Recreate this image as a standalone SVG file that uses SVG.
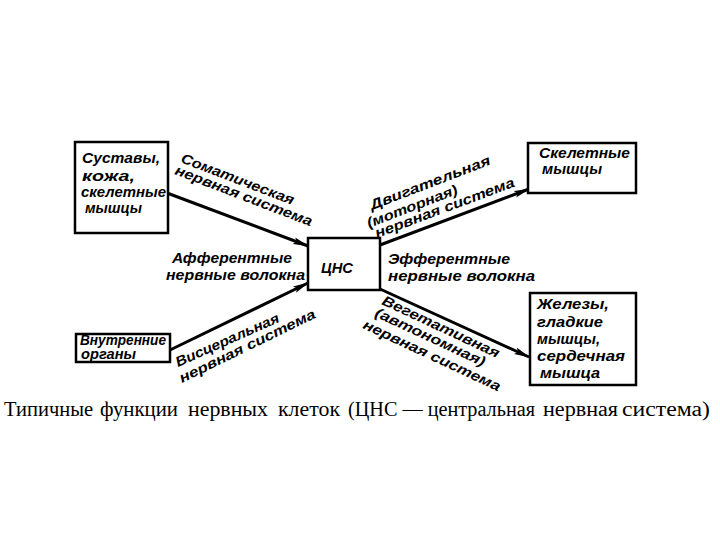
<svg xmlns="http://www.w3.org/2000/svg" width="720" height="540" viewBox="0 0 720 540">
<style>
.box{fill:#fff;stroke:#000;stroke-width:2.5}
.t{font-family:"Liberation Sans",Arial,sans-serif;font-style:italic;font-weight:bold;font-size:14px;fill:#000}
.cap{font-family:"Liberation Serif","Times New Roman",serif;font-size:20px;fill:#000}
.ln{stroke:#000;stroke-width:3;fill:none}
</style>
<defs>
<marker id="ah" markerWidth="16" markerHeight="8" refX="15" refY="4" orient="auto" markerUnits="userSpaceOnUse">
<path d="M0,0.5 L16,4 L0,7.5 L3,4 Z" fill="#000"/>
</marker>
</defs>
<rect width="720" height="540" fill="#fff"/>
<g id="connectors">
<line class="ln" x1="167" y1="193" x2="308" y2="246" marker-end="url(#ah)"/>
<line class="ln" x1="380" y1="245" x2="529" y2="189" marker-end="url(#ah)"/>
<line class="ln" x1="170" y1="350" x2="308" y2="283" marker-end="url(#ah)"/>
<line class="ln" x1="380" y1="289" x2="529" y2="357" marker-end="url(#ah)"/>
</g>
<g id="n-joints">
<rect class="box" x="75" y="142" width="93" height="91"/>
<text class="t" x="82" y="163" font-size="16" textLength="78" lengthAdjust="spacingAndGlyphs">Суставы,</text>
<text class="t" x="82" y="181" font-size="15" textLength="53" lengthAdjust="spacingAndGlyphs">кожа,</text>
<text class="t" x="81" y="197" font-size="15" textLength="85" lengthAdjust="spacingAndGlyphs">скелетные</text>
<text class="t" x="85" y="213" textLength="57" lengthAdjust="spacingAndGlyphs">мышцы</text>
</g>
<g id="n-cns">
<rect class="box" x="308" y="238" width="72" height="52"/>
<text class="t" x="321" y="273" font-size="18" textLength="32" lengthAdjust="spacingAndGlyphs">ЦНС</text>
</g>
<g id="n-skeletal">
<rect class="box" x="528" y="143" width="108" height="50"/>
<text class="t" x="539" y="158" textLength="91" lengthAdjust="spacingAndGlyphs">Скелетные</text>
<text class="t" x="542" y="174" textLength="60" lengthAdjust="spacingAndGlyphs">мышцы</text>
</g>
<g id="n-organs">
<rect class="box" x="76" y="334" width="94" height="28"/>
<text class="t" font-size="9.5"><tspan x="80" y="344.5" textLength="86" lengthAdjust="spacingAndGlyphs">Внутренние</tspan><tspan x="81" y="358.5" textLength="55" lengthAdjust="spacingAndGlyphs">органы</tspan></text>
</g>
<g id="n-glands">
<rect class="box" x="530" y="293" width="106" height="92"/>
<text class="t" x="537" y="309" textLength="72" lengthAdjust="spacingAndGlyphs">Железы,</text>
<text class="t" x="537" y="327" textLength="66" lengthAdjust="spacingAndGlyphs">гладкие</text>
<text class="t" x="537" y="344" textLength="63" lengthAdjust="spacingAndGlyphs">мышцы,</text>
<text class="t" x="537" y="361" textLength="88" lengthAdjust="spacingAndGlyphs">сердечная</text>
<text class="t" x="540" y="378" textLength="60" lengthAdjust="spacingAndGlyphs">мышца</text>
</g>
<g id="labels">
<text class="t" x="172" y="263" textLength="120" lengthAdjust="spacingAndGlyphs">Афферентные</text>
<text class="t" x="166" y="280" textLength="139" lengthAdjust="spacingAndGlyphs">нервные волокна</text>
<text class="t" x="388" y="264" textLength="122" lengthAdjust="spacingAndGlyphs">Эфферентные</text>
<text class="t" x="388" y="281" textLength="147" lengthAdjust="spacingAndGlyphs">нервные волокна</text>
<text class="t" transform="translate(180,162) rotate(21)" textLength="120" lengthAdjust="spacingAndGlyphs">Соматическая</text>
<text class="t" transform="translate(174,174) rotate(21)" textLength="146" lengthAdjust="spacingAndGlyphs">нервная система</text>
<text class="t" font-size="15" transform="translate(372,210) rotate(-21)" textLength="128" lengthAdjust="spacingAndGlyphs">Двигательная</text>
<text class="t" transform="translate(369,228) rotate(-21)" textLength="96" lengthAdjust="spacingAndGlyphs">(моторная)</text>
<text class="t" transform="translate(377,238) rotate(-20.5)" textLength="148" lengthAdjust="spacingAndGlyphs">нервная система</text>
<text class="t" font-size="17" transform="translate(178,367) rotate(-24)" textLength="112" lengthAdjust="spacingAndGlyphs">Висцеральная</text>
<text class="t" font-size="15" transform="translate(182,383) rotate(-26)" textLength="150" lengthAdjust="spacingAndGlyphs">нервная система</text>
<text class="t" transform="translate(381,304) rotate(25)" textLength="128" lengthAdjust="spacingAndGlyphs">Вегетативная</text>
<text class="t" transform="translate(374,316) rotate(25)" textLength="120" lengthAdjust="spacingAndGlyphs">(автономная)</text>
<text class="t" transform="translate(362,328) rotate(25)" textLength="150" lengthAdjust="spacingAndGlyphs">нервная система</text>
</g>
<text class="cap" y="416"><tspan x="4" textLength="89" lengthAdjust="spacingAndGlyphs">Типичные</tspan><tspan x="100" textLength="78" lengthAdjust="spacingAndGlyphs">функции</tspan><tspan x="188" textLength="80" lengthAdjust="spacingAndGlyphs">нервных</tspan><tspan x="278" textLength="62" lengthAdjust="spacingAndGlyphs">клеток</tspan><tspan x="348" textLength="187" lengthAdjust="spacingAndGlyphs">(ЦНС — центральная</tspan><tspan x="543" textLength="75" lengthAdjust="spacingAndGlyphs">нервная</tspan><tspan x="622" textLength="88" lengthAdjust="spacingAndGlyphs">система)</tspan></text>
</svg>
